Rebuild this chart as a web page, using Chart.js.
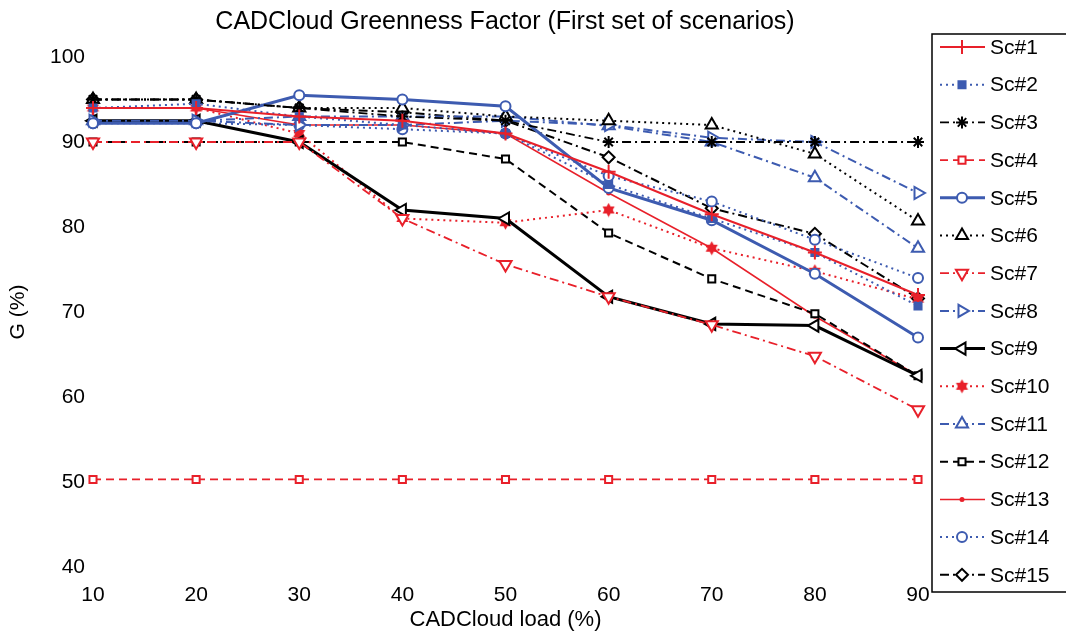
<!DOCTYPE html>
<html><head><meta charset="utf-8">
<script src="https://cdn.jsdelivr.net/npm/chart.js@4.4.0/dist/chart.umd.min.js"></script>
<style>html,body{margin:0;padding:0;background:#fff}</style>
</head><body>
<canvas id="c" width="1066" height="635"></canvas>
<script>
// ---- data ----
const loads = [10, 20, 30, 40, 50, 60, 70, 80, 90];
const xTicks = [10, 20, 30, 40, 50, 60, 70, 80, 90];
const yTicks = [40, 50, 60, 70, 80, 90, 100];
const seriesNames = ['Sc#1','Sc#2','Sc#3','Sc#4','Sc#5','Sc#6','Sc#7','Sc#8','Sc#9','Sc#10','Sc#11','Sc#12','Sc#13','Sc#14','Sc#15'];
const sc1  = [94, 94, 93, 92.5, 91, 86.5, 81.5, 77, 72];
const sc2  = [94, 94.5, 93, 92, 91, 85, 81, 77, 70.7];
const sc3  = [95, 95, 94, 93, 92.5, 90, 90, 90, 90];
const sc4  = [50.3, 50.3, 50.3, 50.3, 50.3, 50.3, 50.3, 50.3, 50.3];
const sc5  = [92.2, 92.2, 95.5, 95, 94.2, 84.6, 80.8, 74.5, 67];
const sc6  = [95, 95, 94, 94, 93, 92.5, 92, 88.6, 80.7];
const sc7  = [90, 90, 90, 81, 75.6, 71.8, 68.5, 64.8, 58.5];
const sc8  = [92.5, 92.5, 92, 92, 92.5, 92, 90.5, 90, 84];
const sc9  = [92.5, 92.5, 90, 82, 81, 71.8, 68.6, 68.4, 62.5];
const sc10 = [94, 94, 91, 81, 80.5, 82, 77.5, 74.8, 71.5];
const sc11 = [92.5, 92.5, 93, 93, 93, 91.9, 90, 85.8, 77.5];
const sc12 = [90, 90, 90, 90, 88, 79.3, 73.9, 69.8, 62.5];
const sc13 = [94, 94, 92, 92, 91, 84, 77.5, 69.5, 62.5];
const sc14 = [92.2, 92.2, 92, 91.5, 91, 86, 83, 78.5, 74];
const sc15 = [95, 95, 94, 93.5, 92.5, 88.2, 82.2, 79.2, 71.6];

const RED = '#e8202a', BLUE = '#3d5bb0', BLACK = '#000000';
const SOLID = [], DOT = [2, 4], DASH = [8, 5], DASHDOT = [9, 4, 2, 4];

function hexagram(color, size) {
  const c = document.createElement('canvas');
  c.width = size; c.height = size;
  const g = c.getContext('2d');
  const r = size / 2 - 0.5, cx = size / 2, cy = size / 2;
  g.fillStyle = color;
  for (let k = 0; k < 2; k++) {
    g.beginPath();
    for (let i = 0; i < 3; i++) {
      const a = -Math.PI / 2 + k * Math.PI + i * 2 * Math.PI / 3;
      const px = cx + r * Math.cos(a), py = cy + r * Math.sin(a);
      if (i === 0) g.moveTo(px, py); else g.lineTo(px, py);
    }
    g.closePath(); g.fill();
  }
  return c;
}
const hexRed = hexagram(RED, 15);

const styles = [
  {color: RED,   dash: SOLID,   w: 2,   ps: 'cross',    rot: 0,   fill: false, r: 7},
  {color: BLUE,  dash: DOT,     w: 2,   ps: 'rect',     rot: 0,   fill: true,  r: 5},
  {color: BLACK, dash: DASHDOT, w: 1.8, ps: 'star',     rot: 0,   fill: false, r: 6},
  {color: RED,   dash: DASH,    w: 1.8, ps: 'rect',     rot: 0,   fill: false, r: 5},
  {color: BLUE,  dash: SOLID,   w: 3,   ps: 'circle',   rot: 0,   fill: false, r: 5},
  {color: BLACK, dash: DOT,     w: 2,   ps: 'triangle', rot: 0,   fill: false, r: 7},
  {color: RED,   dash: DASHDOT, w: 1.8, ps: 'triangle', rot: 180, fill: false, r: 7},
  {color: BLUE,  dash: DASHDOT, w: 2,   ps: 'triangle', rot: 90,  fill: false, r: 7},
  {color: BLACK, dash: SOLID,   w: 3,   ps: 'triangle', rot: -90, fill: false, r: 7},
  {color: RED,   dash: DOT,     w: 2,   ps: hexRed,     rot: 0,   fill: true,  r: 7},
  {color: BLUE,  dash: DASHDOT, w: 2,   ps: 'triangle', rot: 0,   fill: false, r: 7},
  {color: BLACK, dash: DASH,    w: 2,   ps: 'rect',     rot: 0,   fill: false, r: 5},
  {color: RED,   dash: SOLID,   w: 1.5, ps: 'circle',   rot: 0,   fill: true,  r: 1.5},
  {color: BLUE,  dash: DOT,     w: 2,   ps: 'circle',   rot: 0,   fill: false, r: 5},
  {color: BLACK, dash: DASHDOT, w: 2,   ps: 'rectRot',  rot: 0,   fill: false, r: 6}
];
const allSeries = [sc1, sc2, sc3, sc4, sc5, sc6, sc7, sc8, sc9, sc10, sc11, sc12, sc13, sc14, sc15];

const datasets = allSeries.map((vals, i) => {
  const s = styles[i];
  return {
    label: seriesNames[i],
    data: loads.map((x, j) => ({x: x, y: vals[j]})),
    borderColor: s.color,
    borderWidth: s.w,
    borderDash: s.dash,
    pointStyle: s.ps,
    rotation: s.rot,
    pointRadius: s.r,
    pointBorderWidth: 2,
    pointBorderColor: s.color,
    pointBackgroundColor: s.fill ? s.color : '#ffffff',
    fill: false,
    clip: false,
    tension: 0
  };
});

const FONT = '"Liberation Sans", Arial, sans-serif';

const decor = {
  id: 'decor',
  afterDraw(chart) {
    const ctx = chart.ctx;
    ctx.save();
    // title
    ctx.fillStyle = '#000';
    ctx.font = '25px ' + FONT;
    ctx.textAlign = 'center';
    ctx.textBaseline = 'middle';
    ctx.fillText('CADCloud Greenness Factor (First set of scenarios)', 505, 22);
    // legend box
    ctx.strokeStyle = '#000';
    ctx.lineWidth = 1.5;
    ctx.strokeRect(932, 34, 140, 558);
    const top = 47, step = 37.7;
    chart.data.datasets.forEach((ds, i) => {
      const y = top + i * step;
      ctx.save();
      ctx.strokeStyle = ds.borderColor;
      ctx.lineWidth = ds.borderWidth;
      ctx.setLineDash(ds.borderDash);
      ctx.beginPath(); ctx.moveTo(940, y); ctx.lineTo(985, y); ctx.stroke();
      ctx.setLineDash([]);
      ctx.fillStyle = ds.pointBackgroundColor;
      ctx.strokeStyle = ds.pointBorderColor;
      ctx.lineWidth = 2;
      Chart.helpers.drawPoint(ctx, {pointStyle: ds.pointStyle, rotation: ds.rotation, radius: ds.pointRadius, borderWidth: 2}, 962, y);
      ctx.restore();
      ctx.fillStyle = '#000';
      ctx.font = '21px ' + FONT;
      ctx.textAlign = 'left';
      ctx.textBaseline = 'middle';
      ctx.fillText(ds.label, 990, y + 1);
    });
    ctx.restore();
  }
};

new Chart(document.getElementById('c'), {
  type: 'line',
  data: {datasets},
  options: {
    responsive: false,
    animation: false,
    devicePixelRatio: 1,
    layout: {padding: {left: 6, top: 57, right: 148, bottom: 0}},
    plugins: {legend: {display: false}, title: {display: false}, tooltip: {enabled: false}},
    scales: {
      x: {
        type: 'linear', min: 10, max: 90,
        grid: {display: false, drawTicks: false},
        border: {display: false},
        afterBuildTicks: s => { s.ticks = xTicks.map(v => ({value: v})); },
        afterFit: s => { s.height = 68; },
        ticks: {color: '#000', font: {family: FONT, size: 21}, padding: 16, maxRotation: 0, autoSkip: false},
        title: {display: true, text: 'CADCloud load (%)', color: '#000', font: {family: FONT, size: 22}, padding: {top: 0, bottom: 2}}
      },
      y: {
        min: 40, max: 100,
        grid: {display: false, drawTicks: false},
        border: {display: false},
        afterBuildTicks: s => { s.ticks = yTicks.map(v => ({value: v})); },
        afterFit: s => { s.width = 87; },
        ticks: {color: '#000', font: {family: FONT, size: 21}, padding: 8},
        title: {display: true, text: 'G (%)', color: '#000', font: {family: FONT, size: 21}, padding: {top: 0, bottom: 0}}
      }
    }
  },
  plugins: [decor]
});
</script>
</body></html>
